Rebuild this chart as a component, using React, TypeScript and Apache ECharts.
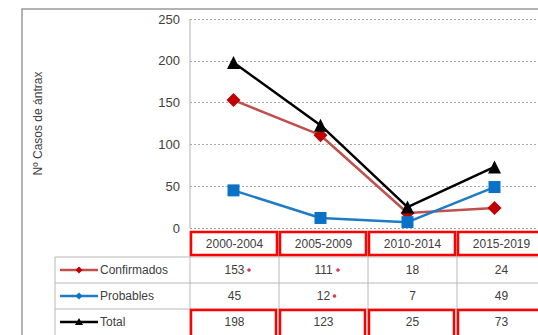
import React, { useEffect, useRef } from "react";
import * as echarts from "echarts";

const categories = ["2000-2004", "2005-2009", "2010-2014", "2015-2019"];
const confirmados = [153, 111, 18, 24];
const probables = [45, 12, 7, 49];
const total = [198, 123, 25, 73];
const flagged = { Confirmados: [true, true, false, false], Probables: [false, true, false, false], Total: [false, false, false, false] } as Record<string, boolean[]>;
const yTicks = [0, 50, 100, 150, 200, 250];

const FONT = "'Liberation Sans Narrow', 'Liberation Sans', sans-serif";
const TXT = "#404040";

export default function App() {
  const ref = useRef<HTMLDivElement>(null);
  useEffect(() => {
    const chart = echarts.init(ref.current!, null, { renderer: "svg" });
    const gL = 190, gT = 19, gW = 356, gH = 209;
    const colW = gW / categories.length;
    const rowTop = [231, 257, 283, 309];
    const rowH = 26;
    const tblLeft = 55;

    const series = [
      { name: "Confirmados", data: confirmados, line: "#c0504d", mark: "#c00000", symbol: "diamond", size: 14 },
      { name: "Probables", data: probables, line: "#1f7bc4", mark: "#0a72c6", symbol: "rect", size: 12 },
      { name: "Total", data: total, line: "#000000", mark: "#000000", symbol: "triangle", size: 13 },
    ];

    const g: any[] = [];
    // outer frame
    g.push({ type: "rect", shape: { x: 22, y: 9, width: 530, height: 340 }, style: { fill: "none", stroke: "#9a9a9a", lineWidth: 1.5 }, z: 0 });
    // plot area left border
    g.push({ type: "line", shape: { x1: gL, y1: gT, x2: gL, y2: gT + gH }, style: { stroke: "#b0b0b0", lineWidth: 1 } });
    // table lines
    const grey = "#b8b8b8";
    for (let r = 1; r <= 3; r++) {
      g.push({ type: "line", shape: { x1: tblLeft, y1: rowTop[r], x2: gL + gW, y2: rowTop[r] }, style: { stroke: grey, lineWidth: 1 } });
    }
    g.push({ type: "line", shape: { x1: tblLeft, y1: rowTop[1], x2: tblLeft, y2: 335 }, style: { stroke: grey, lineWidth: 1 } });
    for (let c = 0; c <= categories.length; c++) {
      g.push({ type: "line", shape: { x1: gL + c * colW, y1: rowTop[0], x2: gL + c * colW, y2: 335 }, style: { stroke: grey, lineWidth: 1 } });
    }
    // header labels
    categories.forEach((c, i) => {
      g.push({ type: "text", x: gL + (i + 0.5) * colW, y: rowTop[0] + rowH / 2, style: { text: c, fill: TXT, font: `12px ${FONT}`, align: "center", verticalAlign: "middle" } });
      g.push({ type: "rect", shape: { x: gL + i * colW + 1, y: rowTop[0] + 1, width: colW - 3, height: rowH - 3 }, style: { fill: "none", stroke: "#ff0000", lineWidth: 2.5 }, z: 10 });
      g.push({ type: "rect", shape: { x: gL + i * colW + 1, y: rowTop[3] + 1, width: colW - 4, height: rowH + 2 }, style: { fill: "none", stroke: "#ff0000", lineWidth: 2.5 }, z: 10 });
    });
    // rows
    series.forEach((s, r) => {
      const cy = rowTop[r + 1] + rowH / 2;
      g.push({ type: "line", shape: { x1: 60, y1: cy, x2: 98, y2: cy }, style: { stroke: s.line, lineWidth: 2.5 } });
      if (s.symbol === "triangle") {
        g.push({ type: "polygon", shape: { points: [[79, cy - 4], [75, cy + 3], [83, cy + 3]] }, style: { fill: s.mark } });
      } else if (s.symbol === "rect") {
        g.push({ type: "polygon", shape: { points: [[79, cy - 3.5], [82.5, cy], [79, cy + 3.5], [75.5, cy]] }, style: { fill: s.mark } });
      } else {
        g.push({ type: "polygon", shape: { points: [[79, cy - 3.5], [82.5, cy], [79, cy + 3.5], [75.5, cy]] }, style: { fill: s.mark } });
      }
      g.push({ type: "text", x: 100, y: cy, style: { text: s.name, fill: TXT, font: `12px ${FONT}`, align: "left", verticalAlign: "middle" } });
      s.data.forEach((v, i) => {
        const cx = gL + (i + 0.5) * colW;
        g.push({ type: "text", x: cx, y: cy, style: { text: String(v), fill: TXT, font: `12px ${FONT}`, align: "center", verticalAlign: "middle" } });
        if (flagged[s.name][i]) {
          g.push({ type: "circle", shape: { cx: cx + (String(v).length * 3.5) + 4, cy: cy, r: 1.8 }, style: { fill: "#d0405a" } });
        }
      });
    });

    chart.setOption({
      animation: false,
      grid: { left: gL, top: gT, width: gW, height: gH, containLabel: false },
      xAxis: {
        type: "category",
        data: categories,
        boundaryGap: true,
        axisLine: { show: false },
        axisTick: { show: false },
        axisLabel: { show: false },
      },
      yAxis: {
        type: "value",
        min: yTicks[0],
        max: yTicks[yTicks.length - 1],
        interval: 50,
        name: "Nº Casos de ántrax",
        nameLocation: "middle",
        nameGap: 146,
        nameRotate: 90,
        nameTextStyle: { color: TXT, fontFamily: FONT, fontSize: 12 },
        axisLine: { show: false },
        axisTick: { show: false },
        axisLabel: { color: TXT, fontFamily: FONT, fontSize: 13, margin: 10 },
        splitLine: { lineStyle: { color: "#a8a8a8", type: [2, 2], width: 1 } },
      },
      series: series.map((s) => ({
        type: "line",
        name: s.name,
        data: s.data,
        symbol: s.symbol,
        symbolSize: s.size,
        lineStyle: { color: s.line, width: 2.5 },
        itemStyle: { color: s.mark },
        z: s.name === "Total" ? 5 : 3,
      })),
      graphic: g,
    });
    return () => chart.dispose();
  }, []);
  return <div ref={ref} style={{ position: "fixed", left: 0, top: 0, width: 538, height: 335, background: "#fff" }} />;
}
